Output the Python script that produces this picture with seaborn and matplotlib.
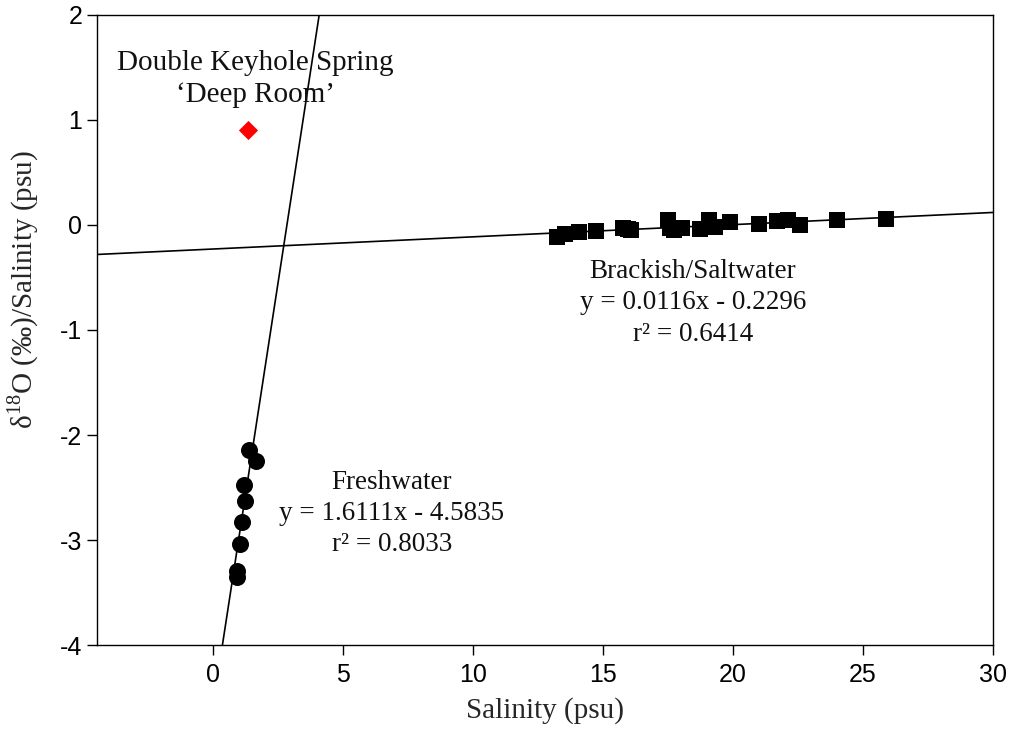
import matplotlib
matplotlib.use("Agg")
import matplotlib.pyplot as plt
import seaborn as sns

sns.set_style("white")
plt.rcParams['font.family'] = ['Liberation Sans', 'DejaVu Sans']
plt.rcParams['mathtext.fontset'] = 'custom'
plt.rcParams['mathtext.rm'] = 'Liberation Serif'
plt.rcParams['axes.unicode_minus'] = False

fresh_sal = [1.40, 1.64, 1.20, 1.23, 1.10, 1.04, 0.93, 0.93]
fresh_d18 = [-2.14, -2.25, -2.48, -2.63, -2.83, -3.04, -3.29, -3.35]

brack_sal = [13.22, 13.54, 14.09, 14.72, 15.78, 16.10, 17.51, 17.58, 18.03, 18.73,
             19.10, 19.30, 19.88, 21.00, 21.68, 22.13, 22.58, 23.99, 25.91, 15.95, 17.75]
brack_d18 = [-0.111, -0.089, -0.064, -0.054, -0.026, -0.048, 0.048, -0.030, -0.030, -0.040,
             0.050, -0.016, 0.030, 0.007, 0.040, 0.048, 0.000, 0.048, 0.054, -0.04, -0.045]

dk_sal = [1.33]
dk_d18 = [0.90]

fresh_fit = (1.6111, -4.5835)
brack_fit = (0.0116, -0.2296)

xticks = [0, 5, 10, 15, 20, 25, 30]
yticks = [-4, -3, -2, -1, 0, 1, 2]

fig = plt.figure(figsize=(10.11, 7.39), dpi=100)
ax = fig.add_axes([0.096, 0.127, 0.886, 0.853])

ax.axline((0, fresh_fit[1]), slope=fresh_fit[0], color='black', lw=1.2, zorder=1)
ax.axline((0, brack_fit[1]), slope=brack_fit[0], color='black', lw=1.2, zorder=1)

sns.scatterplot(x=fresh_sal, y=fresh_d18, ax=ax, marker='o', s=150, color='black',
                edgecolor='black', linewidth=0, zorder=3)
sns.scatterplot(x=brack_sal, y=brack_d18, ax=ax, marker='s', s=117, color='black',
                edgecolor='black', linewidth=0, zorder=3)
sns.scatterplot(x=dk_sal, y=dk_d18, ax=ax, marker='D', s=95, color='#ff0000',
                edgecolor='#ff0000', linewidth=0, zorder=3)

serif = ['Liberation Serif', 'DejaVu Serif']
ax.text(1.62, 1.39, "Double Keyhole Spring\n\u2018Deep Room\u2019", ha='center', va='center',
        fontsize=21, family=serif, color='#111111', linespacing=1.32)
ax.text(18.46, -0.743, "Brackish/Saltwater\ny = 0.0116x - 0.2296\nr\u00b2 = 0.6414", ha='center',
        va='center', fontsize=19.5, family=serif, color='#111111', linespacing=1.32)
ax.text(6.88, -2.743, "Freshwater\ny = 1.6111x - 4.5835\nr\u00b2 = 0.8033", ha='center',
        va='center', fontsize=19.5, family=serif, color='#111111', linespacing=1.32)

ax.set_xlim(-4.46, 30)
ax.set_ylim(-4, 2)
ax.set_xticks(xticks)
ax.set_yticks(yticks)
ax.tick_params(axis='both', direction='out', length=7, width=1, labelsize=18,
               bottom=True, left=True, top=False, right=False, colors='black')
ax.tick_params(axis='x', pad=6)
ax.tick_params(axis='y', pad=3.5)
for sp in ax.spines.values():
    sp.set_color('black')
    sp.set_linewidth(1.0)

ax.set_xlabel("Salinity (psu)", fontsize=21, family=serif)
ax.set_ylabel("\u03b4$^{\\mathrm{18}}$O (\u2030)/Salinity (psu)", fontsize=21, family=serif)
ax.xaxis.set_label_coords(0.5, -0.0825)
ax.yaxis.set_label_coords(-0.0625, 0.5635)

fig.savefig("out.png", dpi=100)
